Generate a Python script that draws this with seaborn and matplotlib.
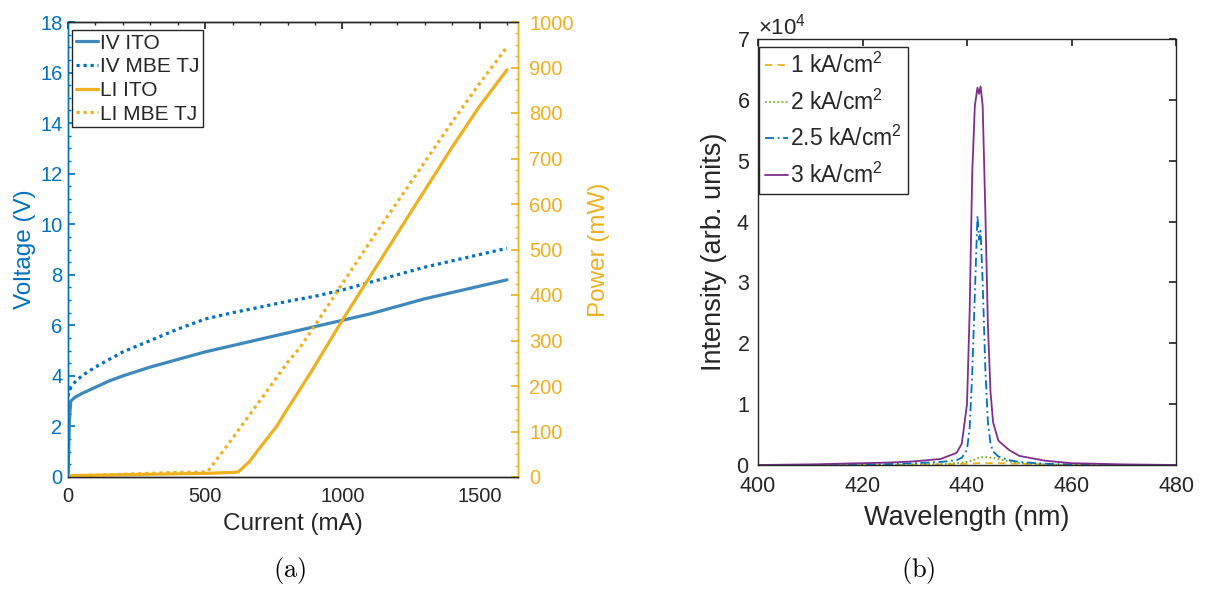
import numpy as np
import pandas as pd
import matplotlib
matplotlib.use("Agg")
import matplotlib.pyplot as plt
from matplotlib.ticker import MultipleLocator
import seaborn as sns

# ---------------- data (a) ----------------
current_iv = [0, 5, 10, 25, 50, 100, 150, 200, 300, 400, 500, 600, 700, 800, 900, 1000,
              1100, 1200, 1300, 1400, 1500, 1600]
iv_ito = [0.0, 2.2, 3.0, 3.15, 3.3, 3.55, 3.8, 4.0, 4.35, 4.65, 4.95, 5.2, 5.45, 5.7, 5.95,
          6.2, 6.45, 6.75, 7.05, 7.3, 7.55, 7.8]
iv_mbe = [3.2, 3.4, 3.55, 3.75, 4.0, 4.35, 4.65, 4.95, 5.4, 5.85, 6.25, 6.5, 6.72, 6.95, 7.15,
          7.4, 7.7, 8.0, 8.3, 8.55, 8.8, 9.05]

current_li = [0, 100, 200, 300, 400, 500, 510, 550, 600, 620, 660, 700, 760, 800, 844, 900,
              1000, 1100, 1200, 1300, 1400, 1500, 1600]
li_ito = [3, 4, 5, 6, 7, 8, 8, 9, 10, 11, 33, 65, 111, 150, 191, 245, 345, 440, 535, 630,
          725, 815, 895]
li_mbe = [2, 4, 6, 8, 10, 11, 13, 45, 85, 102, 135, 168, 218, 252, 283, 333, 425, 516, 604,
          692, 780, 865, 945]

# ---------------- data (b) ----------------
wavelength = [400, 410, 420, 425, 430, 435, 438, 439, 440, 440.5, 441, 441.5, 442, 442.3,
              442.6, 443, 443.5, 444, 444.5, 445, 446, 448, 450, 455, 460, 470, 480]
spec_1 = [0, 0, 0, 0, 0.005, 0.01, 0.015, 0.02, 0.02, 0.02, 0.025, 0.025, 0.03, 0.03, 0.03,
          0.03, 0.03, 0.03, 0.03, 0.03, 0.03, 0.025, 0.02, 0.01, 0.005, 0, 0]
spec_2 = [0, 0, 0, 0.005, 0.01, 0.015, 0.03, 0.04, 0.05, 0.06, 0.08, 0.09, 0.11, 0.12, 0.12,
          0.13, 0.13, 0.13, 0.12, 0.12, 0.1, 0.06, 0.03, 0.01, 0, 0, 0]
spec_25 = [0, 0, 0.01, 0.015, 0.03, 0.05, 0.08, 0.12, 0.25, 0.6, 1.5, 2.8, 4.1, 3.7, 3.85,
           3.0, 1.6, 0.7, 0.35, 0.22, 0.14, 0.08, 0.05, 0.02, 0.01, 0, 0]
spec_3 = [0.0, 0.01, 0.03, 0.04, 0.06, 0.1, 0.2, 0.35, 1.0, 2.5, 4.8, 5.9, 6.2, 6.1, 6.22,
          5.9, 4.2, 2.3, 1.2, 0.7, 0.4, 0.25, 0.15, 0.07, 0.03, 0.01, 0.0]
spec_scale = 1e4

iv_labels = ["IV ITO", "IV MBE TJ"]
li_labels = ["LI ITO", "LI MBE TJ"]
spec_labels = ["1 kA/cm$^2$", "2 kA/cm$^2$", "2.5 kA/cm$^2$", "3 kA/cm$^2$"]

# ---------------- style ----------------
sns.set_theme(style="white")
plt.rcParams["font.family"] = ["Liberation Sans", "DejaVu Sans"]
plt.rcParams["mathtext.fontset"] = "custom"
plt.rcParams["mathtext.rm"] = "Liberation Sans"
plt.rcParams["mathtext.it"] = "Liberation Sans:italic"
plt.rcParams["axes.linewidth"] = 1.0

BLUE = "#0072BD"
BLUE_L = "#3F88BC"
YEL = "#EDB120"
GRN = "#77AC30"
PUR = "#7E2F8E"
DARK = "#262626"

W, H = 1206, 593
fig = plt.figure(figsize=(W / 100, H / 100), dpi=100)

def fpos(x0, y0, x1, y1):
    return [x0 / W, 1 - y1 / H, (x1 - x0) / W, (y1 - y0) / H]

# ---------------- panel (a) ----------------
ax = fig.add_axes(fpos(68, 22, 518, 477))
ax2 = ax.twinx()
dot = (0, (1, 1.2))
sns.lineplot(x=current_iv, y=iv_ito, ax=ax, color=BLUE_L, lw=2.3, label=iv_labels[0], legend=False)
sns.lineplot(x=current_iv, y=iv_mbe, ax=ax, color=BLUE, lw=2.3, linestyle=dot, label=iv_labels[1], legend=False)
sns.lineplot(x=current_li, y=li_ito, ax=ax2, color=YEL, lw=2.3, label=li_labels[0], legend=False)
sns.lineplot(x=current_li, y=li_mbe, ax=ax2, color=YEL, lw=2.3, linestyle=dot, label=li_labels[1], legend=False)

ax.set_xlim(0, 1640)
ax.set_ylim(0, 18)
ax2.set_ylim(0, 1000)
ax.xaxis.set_major_locator(MultipleLocator(500))
ax.xaxis.set_minor_locator(MultipleLocator(100))
ax.yaxis.set_major_locator(MultipleLocator(2))
ax.yaxis.set_minor_locator(MultipleLocator(0.5))
ax2.yaxis.set_major_locator(MultipleLocator(100))
ax2.yaxis.set_minor_locator(MultipleLocator(25))

for a in (ax, ax2):
    a.tick_params(which="both", direction="in", top=True, labelsize=14.5)
    a.tick_params(which="major", length=5)
    a.tick_params(which="minor", length=2.5)
ax.tick_params(axis="y", which="both", colors=BLUE, right=False, pad=4)
ax.tick_params(axis="x", which="both", colors=DARK, top=True, pad=7)
ax2.tick_params(axis="y", which="both", colors=YEL, left=False, pad=8)
for a in (ax, ax2):
    for s in ("left", "right", "top", "bottom"):
        a.spines[s].set_visible(True)
    a.spines["left"].set_color(BLUE)
    a.spines["right"].set_color(YEL)
    a.spines["top"].set_color(DARK)
    a.spines["bottom"].set_color(DARK)

ax.set_xlabel("Current (mA)", fontsize=17.5, color=DARK, labelpad=5)
ax.set_ylabel("Voltage (V)", fontsize=17.5, color=BLUE, labelpad=3)
ax2.set_ylabel("Power (mW)", fontsize=17.5, color=YEL, labelpad=10)

h1, l1 = ax.get_legend_handles_labels()
h2, l2 = ax2.get_legend_handles_labels()
leg = ax2.legend(h1 + h2, l1 + l2, loc="upper left",
                 bbox_to_anchor=(72 / W, 1 - 30 / H), bbox_transform=fig.transFigure,
                 fontsize=15, frameon=True, fancybox=False, framealpha=1,
                 edgecolor=DARK, borderaxespad=0, borderpad=0.18, labelspacing=0.22,
                 handlelength=1.05, handletextpad=0.1)
leg.get_frame().set_linewidth(1.0)

# ---------------- panel (b) ----------------
bx = fig.add_axes(fpos(758, 39, 1176, 465))
styles = [(YEL, (0, (4, 3))), (GRN, (0, (1, 1.3))), (BLUE, (0, (5, 2, 1, 2))), (PUR, "-")]
for lab, vals, (c, ls) in zip(spec_labels, [spec_1, spec_2, spec_25, spec_3], styles):
    df = pd.DataFrame({"wl": wavelength, "I": np.array(vals) * spec_scale})
    sns.lineplot(data=df, x="wl", y="I", ax=bx, color=c, lw=1.3, linestyle=ls, label=lab, legend=False)

bx.set_xlim(400, 480)
bx.set_ylim(0, 7e4)
bx.xaxis.set_major_locator(MultipleLocator(20))
bx.yaxis.set_major_locator(MultipleLocator(1e4))
bx.ticklabel_format(style="sci", axis="y", scilimits=(0, 0), useMathText=True)
bx.yaxis.get_offset_text().set_fontsize(16)
bx.yaxis.get_offset_text().set_color(DARK)
bx.tick_params(which="both", direction="in", top=True, right=True, labelsize=15.5, colors=DARK, length=5)
bx.tick_params(axis="x", pad=8)
bx.tick_params(axis="y", pad=6)
for s in ("left", "right", "top", "bottom"):
    bx.spines[s].set_visible(True)
    bx.spines[s].set_color(DARK)
bx.set_xlabel("Wavelength (nm)", fontsize=19.5, color=DARK, labelpad=6)
bx.set_ylabel("Intensity (arb. units)", fontsize=19.5, color=DARK, labelpad=7)
leg2 = bx.legend(loc="upper left", bbox_to_anchor=(759 / W, 1 - 47 / H),
                 bbox_transform=fig.transFigure, fontsize=16.5, frameon=True, fancybox=False,
                 framealpha=1, edgecolor=DARK, borderaxespad=0, borderpad=0.25,
                 labelspacing=0.5, handlelength=1.0, handletextpad=0.1)
leg2.get_frame().set_linewidth(1.0)

# captions
fig.text(290 / W, 1 - 571 / H, r"$\mathrm{(a)}$", ha="center", va="center", fontsize=19,
         math_fontfamily="cm", color="black")
fig.text(918 / W, 1 - 571 / H, r"$\mathrm{(b)}$", ha="center", va="center", fontsize=19,
         math_fontfamily="cm", color="black")

fig.savefig("out.png", dpi=100)
